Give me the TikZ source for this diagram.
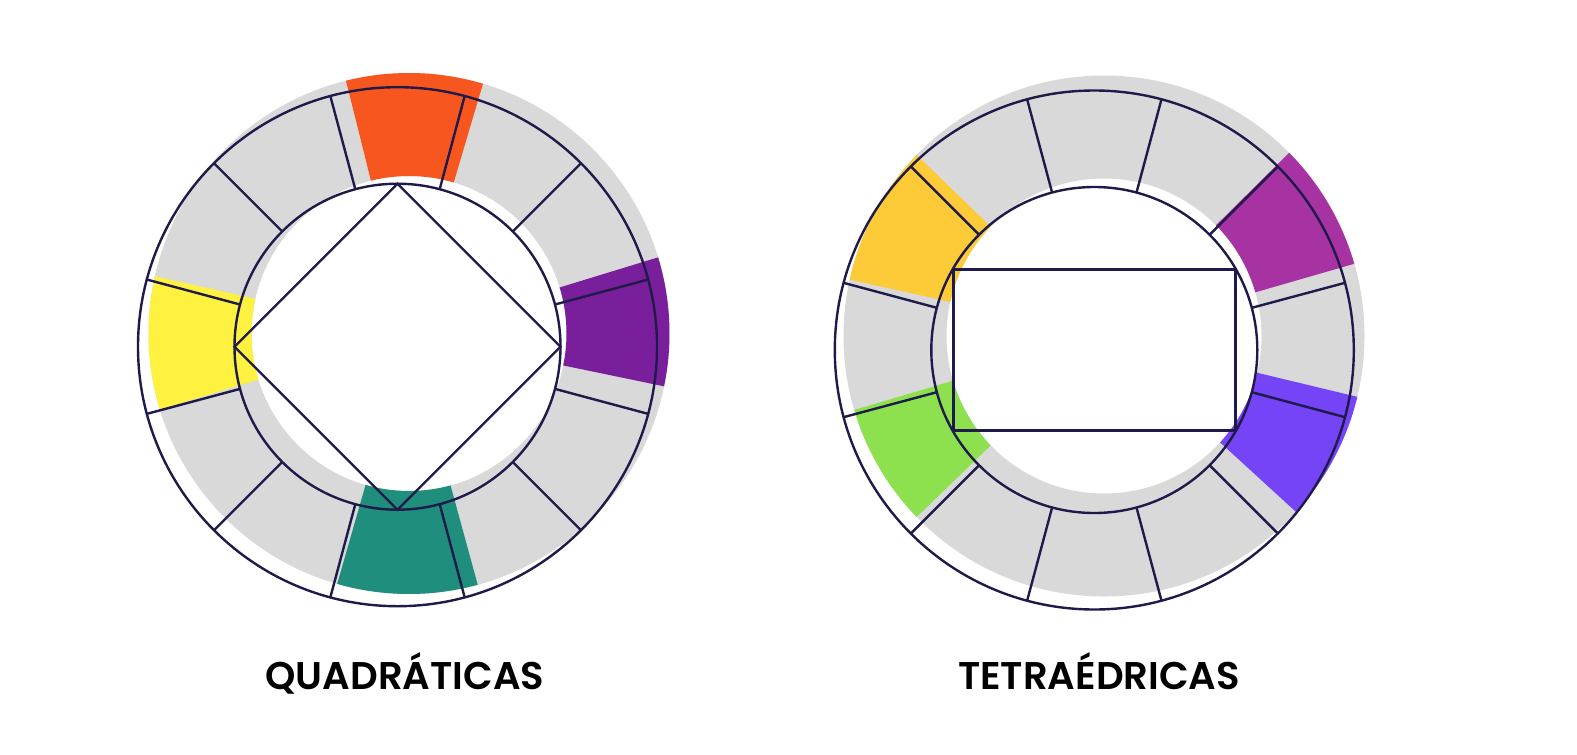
\documentclass[tikz,border=0pt]{standalone}
\usepackage{fontspec}
\newfontfamily\labfont{Poppins SemiBold}
\definecolor{navy}{HTML}{1E1B4B}
\definecolor{lgray}{HTML}{D9D9D9}
\definecolor{corange}{HTML}{F8561F}
\definecolor{cyellow}{HTML}{FEF13F}
\definecolor{cpurple}{HTML}{7A1F9C}
\definecolor{cteal}{HTML}{1F8E7C}
\definecolor{cgold}{HTML}{FCCB37}
\definecolor{cmagenta}{HTML}{A733A3}
\definecolor{cviolet}{HTML}{7544F6}
\definecolor{cgreen}{HTML}{8DE14F}
\newcommand\annsec[4]{%
  \fill[#4, shift={#1}] (#2:157.5) arc[start angle=#2, end angle=#3, radius=157.5]
    -- (#3:260.5) arc[start angle=#3, end angle=#2, radius=260.5] -- cycle;}
\begin{document}
\begin{tikzpicture}[x=1pt,y=1pt,
  outl/.style={draw=navy, line width=2.4pt},
  lab/.style={font=\labfont\fontsize{38.6}{40}\selectfont, text=black, anchor=base, inner sep=0pt}]
\useasboundingbox (0,0) rectangle (1577,-755);
\fill[white] (0,0) rectangle (1577,-755);

% ---------- left wheel: fills ----------
\fill[lgray, even odd rule] (409,-333.5) circle[radius=260.5] (409,-333.5) circle[radius=157.5];
\annsec{(409,-333.5)}{73.5}{104}{corange}
\annsec{(409,-333.5)}{167.3}{197}{cyellow}
\annsec{(409,-333.5)}{-11.7}{17}{cpurple}
\annsec{(409,-333.5)}{254}{285.3}{cteal}

% ---------- left wheel: outline ----------
\begin{scope}[shift={(397.5,-346.7)}]
  \draw[outl] (0,0) circle[radius=259.5];
  \draw[outl] (0,0) circle[radius=163];
  \foreach \a in {15,45,...,345} \draw[outl] (\a:163) -- (\a:259.5);
  \draw[outl, line join=miter] (90:163) -- (0:163) -- (270:163) -- (180:163) -- cycle;
\end{scope}

% ---------- right wheel: fills ----------
\fill[lgray, even odd rule] (1104,-336) circle[radius=260.5] (1104,-336) circle[radius=157.5];
\annsec{(1104,-336)}{136}{167.5}{cgold}
\annsec{(1104,-336)}{16.1}{44.7}{cmagenta}
\annsec{(1104,-336)}{-42.5}{-13.5}{cviolet}
\annsec{(1104,-336)}{196.5}{224}{cgreen}

% ---------- right wheel: outline ----------
\begin{scope}[shift={(1094.3,-350)}]
  \draw[outl] (0,0) circle[radius=259.5];
  \draw[outl] (0,0) circle[radius=163];
  \foreach \a in {15,45,...,345} \draw[outl] (\a:163) -- (\a:259.5);
  \draw[outl] (-141,80.5) rectangle (141,-80.5);
\end{scope}

% ---------- labels ----------
\node[lab] (quad) at (405,-689) {QUADRÁTICAS};
\node[lab] (tetra) at (1099,-689) {TETRAÉDRICAS};
\end{tikzpicture}
\end{document}
